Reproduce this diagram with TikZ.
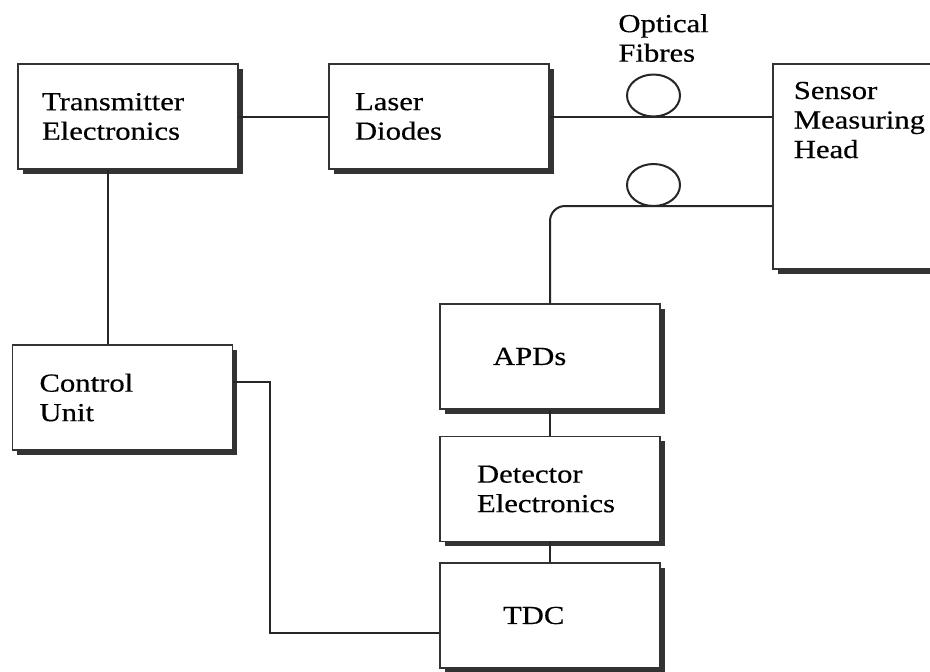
\documentclass[tikz,border=0pt]{standalone}
\usepackage{fontspec}
\setmainfont{Liberation Serif}[FakeStretch=1.18, FakeBold=0.4]
\usetikzlibrary{shadows}

\tikzset{
  block/.style={draw=black!80, line width=0.6pt, fill=white,
    general shadow={fill=black!80, shadow xshift=2.4pt, shadow yshift=-2.4pt},
    minimum height=52.5pt, align=left, inner ysep=0pt,
    font=\fontsize{13}{14.75}\selectfont},
  inset/.style={inner xsep=#1, text width=110pt-2*#1},
  txt/.style={align=left, inner sep=0pt, font=\fontsize{13}{14.75}\selectfont},
  wire/.style={line width=1pt, draw=black!85}
}

\begin{document}
\begin{tikzpicture}[x=0.5pt, y=-0.5pt]
\clip (0,0) rectangle (930,671);
\fill[white] (0,0) rectangle (930,671);

% boxes
\node[block, inset=12pt] (trans) at (128,116.5) {Transmitter\\Electronics};
\node[block, inset=13pt] (laser) at (439,116.5) {Laser\\Diodes};
\node[block, minimum width=93.5pt, minimum height=102.5pt] (head) at (866.5,166.5) {};
\node[txt, anchor=north west] (headtxt) at ([xshift=10.5pt, yshift=-9pt]head.north west) {Sensor\\Measuring\\Head};
\node[block, inset=13.5pt] (ctrl) at (122.5,397.5) {Control\\Unit};
\node[block, inset=26.5pt] (apd) at (550,356.5) {APDs};
\node[block, inset=18.5pt] (det) at (550,489) {Detector\\Electronics};
\node[block, inset=31.5pt] (tdc) at (550,615.5) {TDC};
\node[txt, anchor=west] (fibres) at (618,38) {Optical\\Fibres};

% helper points
\coordinate (tc) at (108,0);
\coordinate (lo) at (700,206);
\coordinate (ct1) at (270,382);
\coordinate (ct2) at (270,633);

% connections
\draw[wire] (trans) -- (laser);
\draw[wire] (laser.east) -- (laser.east -| head.west);
\draw[wire, rounded corners=7.5pt] (lo -| head.west) -- (lo -| apd.north) -- (apd.north);
\draw[wire] (trans.south -| tc) -- (ctrl.north -| tc);
\draw[wire] (apd) -- (det);
\draw[wire] (det) -- (tdc);
\draw[wire] (ct1 -| ctrl.east) -- (ct1) -- (ct2) -- (ct2 -| tdc.west);

% fibre loops
\draw[wire] (653.5,95.5) ellipse [x radius=26.5, y radius=21];
\draw[wire] (653.5,185) ellipse [x radius=26.5, y radius=21];
\end{tikzpicture}
\end{document}
